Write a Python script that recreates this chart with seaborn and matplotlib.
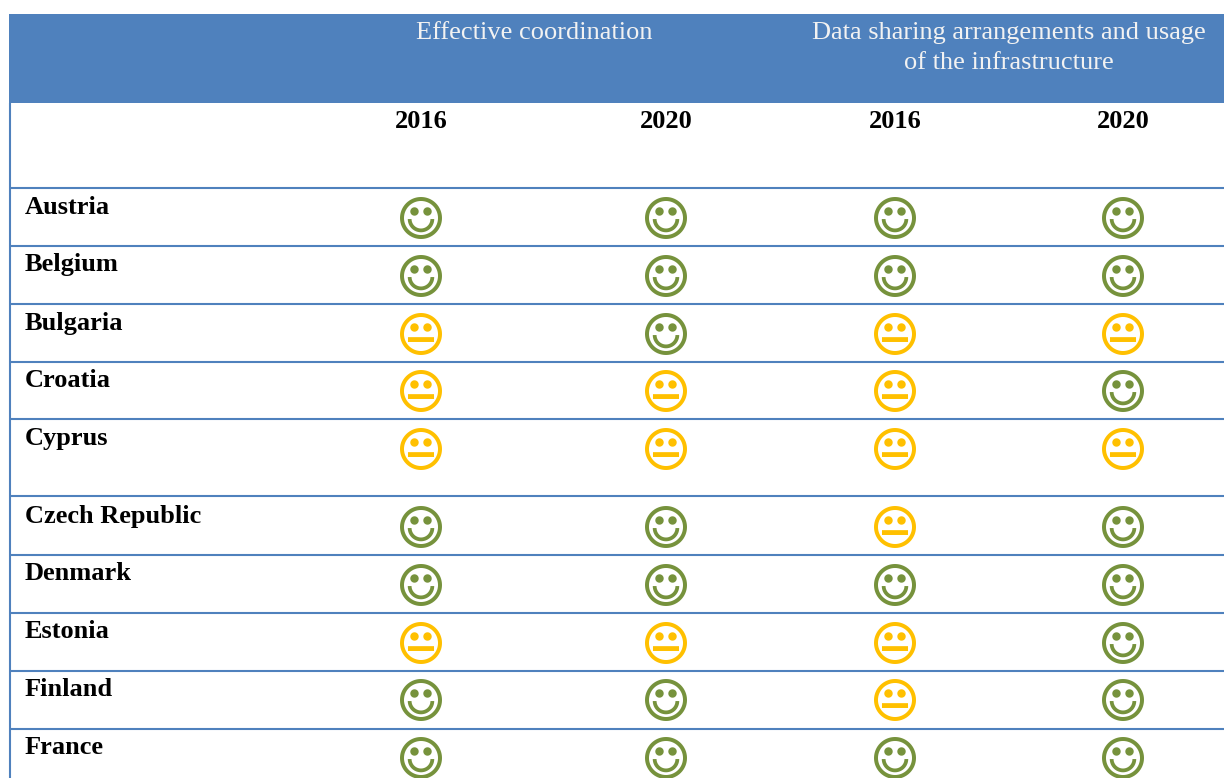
import numpy as np
import pandas as pd
import matplotlib
matplotlib.use('Agg')
import matplotlib.pyplot as plt
from matplotlib.path import Path
from matplotlib.patches import Rectangle
import seaborn as sns

countries = ['Austria', 'Belgium', 'Bulgaria', 'Croatia', 'Cyprus',
             'Czech Republic', 'Denmark', 'Estonia', 'Finland', 'France']
coord_2016 = ['good', 'good', 'ok', 'ok', 'ok', 'good', 'good', 'ok', 'good', 'good']
coord_2020 = ['good', 'good', 'good', 'ok', 'ok', 'good', 'good', 'ok', 'good', 'good']
data_2016 = ['good', 'good', 'ok', 'ok', 'ok', 'ok', 'good', 'ok', 'ok', 'good']
data_2020 = ['good', 'good', 'ok', 'good', 'ok', 'good', 'good', 'good', 'good', 'good']
year_labels = ['2016', '2020', '2016', '2020']

# layout in pixels of the 1224x778 picture
col_x = [421, 666, 895, 1123]
row_y = [218, 276, 334, 391, 449, 527, 585, 643, 700, 758]
label_y = [207, 265, 323, 380, 438, 516, 574, 632, 689, 747]
line_y = [188, 246, 304, 362, 419, 496, 555, 613, 671, 729]
BLUE = '#4F81BD'
SERIF = ['Liberation Serif', 'DejaVu Serif']
FS = 19


def disc(cx, cy, r, reverse=False):
    t = np.linspace(0, 2 * np.pi, 65)
    if reverse:
        t = t[::-1]
    return Path(np.column_stack([cx + r * np.cos(t), cy + r * np.sin(t)]), closed=True)


def face(mouth):
    parts = [disc(0, 0, 1), disc(0, 0, 0.81, reverse=True),
             disc(-0.31, 0.31, 0.2), disc(0.31, 0.31, 0.2), mouth]
    return Path.make_compound_path(*parts)


# smile: half ring, neutral: flat bar
t = np.linspace(np.pi, 2 * np.pi, 40)
smile_pts = np.vstack([np.column_stack([0.63 * np.cos(t), 0.63 * np.sin(t) - 0.05]),
                       np.column_stack([0.45 * np.cos(t[::-1]), 0.45 * np.sin(t[::-1]) - 0.05])])
smile = Path(np.vstack([smile_pts, smile_pts[:1]]), closed=True)
bar = Path([(-0.62, -0.38), (0.62, -0.38), (0.62, -0.15), (-0.62, -0.15), (-0.62, -0.38)], closed=True)

sns.set_style('white')
plt.rcParams['font.family'] = SERIF
plt.rcParams['text.color'] = 'black'

rows = []
for col, values in enumerate([coord_2016, coord_2020, data_2016, data_2020]):
    for r, status in enumerate(values):
        rows.append({'x': col_x[col], 'y': row_y[r], 'status': status})
df = pd.DataFrame(rows)

fig = plt.figure(figsize=(12.24, 7.78), dpi=100)
ax = fig.add_axes([0, 0, 1, 1])

# header band and rules
ax.add_patch(Rectangle((9, 14), 1215, 89, color=BLUE, lw=0, zorder=1))
ax.vlines(10, 103, 778, color=BLUE, lw=1.5, zorder=1)
ax.hlines(line_y, 10, 1224, color=BLUE, lw=1.5, zorder=1)

sns.scatterplot(data=df, x='x', y='y', hue='status', style='status',
                palette={'good': '#76923C', 'ok': '#FFC000'},
                markers={'good': face(smile), 'ok': face(bar)},
                s=(42 * 0.72) ** 2, linewidth=0, legend=False, zorder=3, ax=ax)

ax.set_xlim(0, 1224)
ax.set_ylim(778, 0)
ax.axis('off')

ax.text(534.5, 33, 'Effective coordination', color='#F2F2F2', fontsize=FS,
        ha='center', va='center')
ax.text(1008.5, 33, 'Data sharing arrangements and usage', color='#F2F2F2', fontsize=FS,
        ha='center', va='center')
ax.text(1008.5, 63, 'of the infrastructure', color='#F2F2F2', fontsize=FS,
        ha='center', va='center')

for x, year in zip(col_x, year_labels):
    ax.text(x, 121, year, fontsize=FS, fontweight='bold', ha='center', va='center')
for y, name in zip(label_y, countries):
    ax.text(25, y, name, fontsize=FS, fontweight='bold', ha='left', va='center')

fig.savefig('out.png', dpi=100)
